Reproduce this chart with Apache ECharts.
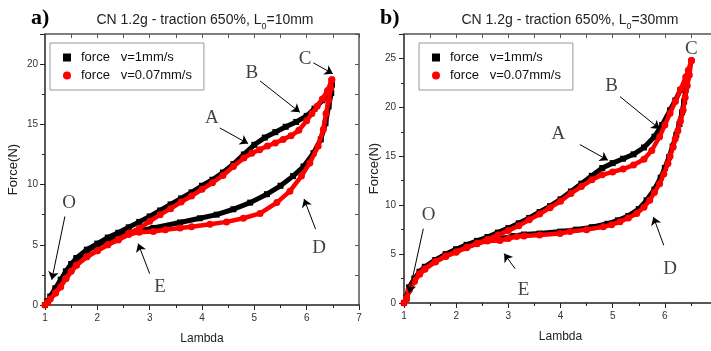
<!DOCTYPE html>
<html><head><meta charset="utf-8">
<script src="https://cdn.jsdelivr.net/npm/echarts@6/dist/echarts.min.js"></script>
<style>html,body{margin:0;padding:0;background:#fff}#c{width:711px;height:351px}</style>
</head><body><div id="c"></div>
<script>
// ---- Data (lambda, force) ----
const NAME_FAST = 'force   v=1mm/s';
const NAME_SLOW = 'force   v=0.07mm/s';

// Panel a) L0 = 10mm
const aFastLoad = [[1.00,0.0],[1.05,0.3],[1.10,0.7],[1.20,1.4],[1.30,2.1],[1.40,2.8],[1.50,3.4],[1.60,3.9],[1.80,4.6],[2.00,5.1],[2.20,5.6],[2.40,6.0],[2.60,6.45],[2.80,6.9],[3.00,7.35],[3.20,7.85],[3.40,8.35],[3.60,8.85],[3.80,9.35],[4.00,9.9],[4.20,10.4],[4.40,11.0],[4.60,11.7],[4.80,12.5],[5.00,13.3],[5.20,13.9],[5.40,14.35],[5.60,14.8],[5.80,15.2],[6.00,15.7],[6.15,16.3],[6.30,17.0],[6.40,17.6],[6.48,18.3]];
const aFastUnload = [[6.48,18.3],[6.47,17.6],[6.42,16.5],[6.36,15.1],[6.27,13.75],[6.13,12.6],[5.94,11.5],[5.74,10.7],[5.50,9.9],[5.24,9.2],[4.92,8.5],[4.60,7.95],[4.28,7.5],[3.96,7.2],[3.58,6.85],[3.07,6.4],[2.75,6.1],[2.50,5.8],[2.20,5.4],[2.00,5.0],[1.80,4.5],[1.60,3.8],[1.40,2.7],[1.20,1.3],[1.05,0.3]];
const aSlowLoad = [[1.00,0.0],[1.05,0.2],[1.10,0.5],[1.20,1.0],[1.30,1.5],[1.40,2.2],[1.50,2.8],[1.60,3.3],[1.80,4.0],[2.00,4.5],[2.20,5.0],[2.40,5.45],[2.60,5.95],[2.80,6.35],[3.00,6.95],[3.20,7.5],[3.40,8.0],[3.60,8.55],[3.80,9.05],[4.00,9.6],[4.20,10.15],[4.40,10.75],[4.60,11.5],[4.80,12.2],[4.95,12.6],[5.10,12.9],[5.25,13.2],[5.40,13.45],[5.55,13.75],[5.70,14.05],[5.85,14.5],[6.00,15.3],[6.10,15.9],[6.20,16.5],[6.30,17.1],[6.40,17.8],[6.48,18.7]];
const aSlowUnload = [[6.48,18.7],[6.46,18.0],[6.42,17.0],[6.37,15.9],[6.32,14.6],[6.22,13.2],[6.06,11.8],[5.90,10.7],[5.68,9.45],[5.43,8.5],[5.11,7.6],[4.79,7.2],[4.47,6.9],[4.15,6.7],[3.80,6.5],[3.58,6.4],[3.30,6.25],[3.07,6.1],[2.80,6.05],[2.60,5.85],[2.40,5.4],[2.20,5.0],[2.00,4.5],[1.80,4.0],[1.60,3.3],[1.40,2.2],[1.20,1.0],[1.05,0.2]];

// Panel b) L0 = 30mm
const bFastLoad = [[1.00,0.0],[1.05,0.6],[1.10,1.6],[1.20,2.5],[1.30,3.2],[1.40,3.7],[1.60,4.4],[1.80,5.0],[2.00,5.5],[2.20,5.95],[2.40,6.35],[2.60,6.75],[2.80,7.2],[3.00,7.65],[3.20,8.15],[3.40,8.7],[3.60,9.3],[3.80,9.9],[4.00,10.6],[4.20,11.4],[4.40,12.2],[4.60,13.0],[4.80,13.8],[5.00,14.3],[5.20,14.75],[5.40,15.2],[5.60,15.9],[5.80,17.0],[5.95,18.2],[6.10,19.7],[6.20,20.7],[6.30,21.8],[6.42,22.8]];
const bFastUnload = [[6.42,22.8],[6.40,21.8],[6.37,20.6],[6.33,19.5],[6.28,18.3],[6.22,17.2],[6.15,16.0],[6.08,14.9],[6.00,13.8],[5.92,12.8],[5.80,11.6],[5.65,10.5],[5.50,9.6],[5.30,8.9],[5.10,8.45],[4.90,8.1],[4.60,7.75],[4.30,7.5],[4.00,7.3],[3.60,7.1],[3.30,7.0],[3.10,6.85],[2.90,6.6],[2.70,6.5],[2.40,6.2],[2.20,5.8],[2.00,5.35],[1.80,4.9],[1.60,4.3],[1.40,3.6],[1.30,3.1],[1.20,2.4],[1.10,1.5],[1.05,0.5]];
const bSlowLoad = [[1.00,0.0],[1.05,0.5],[1.10,1.4],[1.20,2.3],[1.30,3.0],[1.40,3.5],[1.60,4.25],[1.80,4.8],[2.00,5.25],[2.20,5.7],[2.40,6.1],[2.60,6.5],[2.80,6.95],[3.00,7.4],[3.20,7.9],[3.40,8.5],[3.60,9.1],[3.80,9.75],[4.00,10.4],[4.20,11.2],[4.40,11.9],[4.60,12.6],[4.80,13.1],[5.00,13.4],[5.20,13.7],[5.40,14.1],[5.60,14.7],[5.75,15.6],[5.90,17.0],[6.00,18.2],[6.10,19.4],[6.20,20.6],[6.30,21.8],[6.40,23.1],[6.45,23.8],[6.51,24.8]];
const bSlowUnload = [[6.51,24.8],[6.47,23.3],[6.43,22.2],[6.39,21.0],[6.35,19.7],[6.30,18.6],[6.25,17.6],[6.20,16.8],[6.16,15.95],[6.10,15.0],[6.06,14.25],[5.98,13.2],[5.90,12.2],[5.80,11.3],[5.71,10.5],[5.60,9.8],[5.46,9.15],[5.30,8.7],[5.14,8.3],[4.98,8.0],[4.82,7.8],[4.50,7.5],[4.18,7.3],[3.99,7.1],[3.60,6.95],[3.30,6.85],[3.16,6.8],[3.00,6.6],[2.84,6.4],[2.60,6.35],[2.40,6.05],[2.20,5.65],[2.00,5.2],[1.80,4.75],[1.60,4.2],[1.40,3.45],[1.30,2.95],[1.20,2.2],[1.10,1.3],[1.05,0.4]];

// Annotations: letter positions and arrows [x1,y1,x2,y2]
const aLetters = [[1.46,8.5,'O'],[4.19,15.55,'A'],[4.95,19.3,'B'],[5.97,20.4,'C'],[6.24,4.7,'D'],[3.2,1.5,'E']];
const aArrows = [[1.38,7.35,1.13,2.1],[4.34,14.7,4.88,13.4],[5.11,18.6,5.87,16.0],[6.13,20.1,6.5,19.2],[6.17,6.3,5.95,8.8],[3.0,2.6,2.78,5.1]];
const bLetters = [[1.47,9.0,'O'],[3.96,17.3,'A'],[4.98,22.2,'B'],[6.51,26.0,'C'],[6.1,3.5,'D'],[3.29,1.33,'E']];
const bArrows = [[1.37,7.6,1.1,1.0],[4.37,16.2,4.91,14.6],[5.14,21.1,5.9,17.8],[5.98,5.9,5.78,8.8],[3.13,3.5,2.92,5.05]];

const xRange = [1, 7];
const aYMax = 22.5, bYMax = 27.5;

// ---- Chart ----
const chart = echarts.init(document.getElementById('c'), null, {renderer: 'canvas'});
const SANS = 'Liberation Sans, Arial, sans-serif';
const SERIF = 'Liberation Serif, Times New Roman, serif';

function xMain(g) {
  return {type:'value', gridIndex:g, min:xRange[0], max:xRange[1], interval:1, position:'bottom',
    axisLine:{onZero:false, lineStyle:{color:'#222', width:1.5}},
    axisTick:{inside:false, length:5, lineStyle:{color:'#222', width:1}},
    minorTick:{show:true, splitNumber:2, length:3, lineStyle:{color:'#222'}},
    splitLine:{show:false},
    axisLabel:{color:'#333', fontSize:10, fontFamily:SANS, margin:8},
    name:'Lambda', nameLocation:'middle', nameGap:28,
    nameTextStyle:{color:'#222', fontSize:12, fontFamily:SANS}};
}
function xMirror(g) {
  return {type:'value', gridIndex:g, min:xRange[0], max:xRange[1], interval:1, position:'top',
    axisLine:{onZero:false, lineStyle:{color:'#555', width:1.5}},
    axisTick:{inside:true, length:4, lineStyle:{color:'#555'}},
    minorTick:{show:true, splitNumber:2, length:4, lineStyle:{color:'#555'}},
    splitLine:{show:false}, axisLabel:{show:false}};
}
function yMain(g, max, gap, margin) {
  return {type:'value', gridIndex:g, min:0, max:max, interval:5, position:'left',
    axisLine:{onZero:false, lineStyle:{color:'#222', width:1.5}},
    axisTick:{inside:false, length:5, lineStyle:{color:'#222'}},
    minorTick:{show:true, splitNumber:2, length:3, lineStyle:{color:'#222'}},
    splitLine:{show:false},
    axisLabel:{color:'#333', fontSize:10, fontFamily:SANS, margin:margin, showMaxLabel:false},
    name:'Force(N)', nameLocation:'middle', nameGap:gap,
    nameTextStyle:{color:'#222', fontSize:13, fontFamily:SANS}};
}
function yMirror(g, max) {
  return {type:'value', gridIndex:g, min:0, max:max, interval:5, position:'right',
    axisLine:{onZero:false, lineStyle:{color:'#555', width:1.5}},
    axisTick:{inside:true, length:4, lineStyle:{color:'#555'}},
    minorTick:{show:true, splitNumber:2, length:4, lineStyle:{color:'#555'}},
    splitLine:{show:false}, axisLabel:{show:false}};
}

function curve(name, data, xi, yi, fast) {
  return {type:'line', name:name, xAxisIndex:xi, yAxisIndex:yi, data:data,
    symbol: fast ? 'rect' : 'circle', symbolSize: fast ? 6 : 7, showSymbol:true,
    lineStyle:{width: fast ? 5 : 4.5, color: fast ? '#000' : '#ff0000'},
    itemStyle:{color: fast ? '#000' : '#ff0000'},
    z: fast ? 2 : 3, animation:false, silent:true};
}
function annot(letters, arrows, xi, yi) {
  return {type:'scatter', name:'annot', xAxisIndex:xi, yAxisIndex:yi, data:letters,
    symbolSize:0, silent:true, z:5, animation:false,
    label:{show:true, position:'inside', formatter:(p)=>p.value[2], fontFamily:SERIF, fontSize:19, color:'#111'},
    markLine:{silent:true, animation:false, symbol:['none','arrow'], symbolSize:8,
      lineStyle:{color:'#000', width:1, type:'solid'}, label:{show:false},
      data: arrows.map(a=>[{coord:[a[0],a[1]]},{coord:[a[2],a[3]]}])}};
}
function legend(left) {
  return {left:left, top:43, orient:'vertical', selectedMode:false,
    data:[{name:NAME_FAST, icon:'rect'},{name:NAME_SLOW, icon:'circle'}],
    itemWidth:8, itemHeight:8, itemGap:5, padding:[8,12,8,13],
    borderColor:'#999', borderWidth:1, backgroundColor:'#fff',
    textStyle:{fontSize:13, color:'#111', fontFamily:SANS, padding:[0,0,0,5]}};
}
function title(x, l0) {
  return {left:x, top:8, textAlign:'center',
    text:'{t|CN 1.2g - traction 650%, L}{s|0}{t|=' + l0 + '}',
    textStyle:{fontWeight:'normal', rich:{
      t:{fontSize:14, fontFamily:SANS, fontWeight:'normal', color:'#222', verticalAlign:'top', lineHeight:16},
      s:{fontSize:9, fontFamily:SANS, fontWeight:'normal', color:'#222', verticalAlign:'top', lineHeight:9, padding:[9,0,0,0]}}}};
}

chart.setOption({
  animation:false,
  backgroundColor:'#fff',
  title:[
    {left:26, top:2, text:'a)', textStyle:{fontFamily:SERIF, fontWeight:'bold', fontSize:22, color:'#000'}},
    title(200, '10mm'),
    {left:375, top:2, text:'b)', textStyle:{fontFamily:SERIF, fontWeight:'bold', fontSize:22, color:'#000'}},
    title(565, '30mm')
  ],
  legend:[legend(50), legend(419)],
  grid:[
    {left:45, top:34, width:314, height:271, outerBoundsMode:'none', containLabel:false},
    {left:404, top:34, width:313, height:269, outerBoundsMode:'none', containLabel:false}
  ],
  xAxis:[xMain(0), xMirror(0), xMain(1), xMirror(1)],
  yAxis:[yMain(0, aYMax, 25, 7), yMirror(0, aYMax), yMain(1, bYMax, 23, 8), yMirror(1, bYMax)],
  series:[
    curve(NAME_FAST, aFastLoad, 0, 0, true),
    curve(NAME_FAST, aFastUnload, 0, 0, true),
    curve(NAME_SLOW, aSlowLoad, 0, 0, false),
    curve(NAME_SLOW, aSlowUnload, 0, 0, false),
    annot(aLetters, aArrows, 0, 0),
    curve(NAME_FAST, bFastLoad, 2, 2, true),
    curve(NAME_FAST, bFastUnload, 2, 2, true),
    curve(NAME_SLOW, bSlowLoad, 2, 2, false),
    curve(NAME_SLOW, bSlowUnload, 2, 2, false),
    annot(bLetters, bArrows, 2, 2)
  ]
});
</script></body></html>
